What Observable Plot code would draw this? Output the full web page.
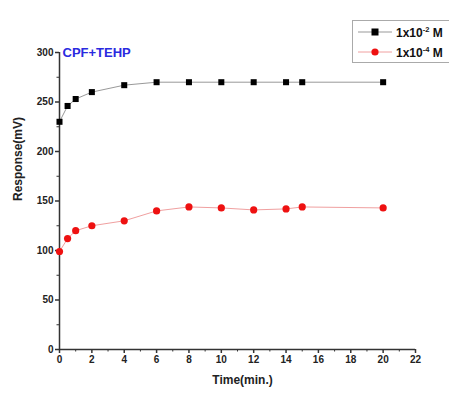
<!DOCTYPE html>
<html>
<head>
<meta charset="utf-8">
<script src="https://cdn.jsdelivr.net/npm/d3@7"></script>
<script src="https://cdn.jsdelivr.net/npm/@observablehq/plot@0.6"></script>
<style>
  html, body { margin: 0; padding: 0; background: #fff; overflow: hidden; }
  #wrap { position: relative; width: 449px; height: 394px; font-family: "Liberation Sans", Arial, sans-serif; }
  #legend { position: absolute; left: 352px; top: 20px; width: 110px; height: 43px; border: 1px solid #aaa; background: #fff; box-sizing: border-box; }
  .row { position: absolute; left: 0; height: 14px; display: flex; align-items: center; font-weight: bold; font-size: 12px; color: #111; }
  .row svg { margin-left: 5px; margin-right: 4px; }
  sup { font-size: 7.5px; }
</style>
</head>
<body>
<div id="wrap"></div>
<script>
const time = [0, 0.5, 1, 2, 4, 6, 8, 10, 12, 14, 15, 20];
const high = [230, 246, 253, 260, 267, 270, 270, 270, 270, 270, 270, 270];
const low  = [99, 112, 120, 125, 130, 140, 144, 143, 141, 142, 144, 143];
const seriesNames = ["1x10-2 M", "1x10-4 M"];
const xTicks = d3.range(0, 23, 2);
const xMinor = d3.range(1, 22, 2);
const yTicks = [0, 50, 100, 150, 200, 250, 300];
const yMinor = [25, 75, 125, 175, 225, 275];
const title = "CPF+TEHP";

const dHigh = time.map((t, i) => ({t, v: high[i]}));
const dLow = time.map((t, i) => ({t, v: low[i]}));

const chart = Plot.plot({
  width: 449,
  height: 394,
  marginLeft: 59,
  marginRight: 34,
  marginTop: 52,
  marginBottom: 45,
  style: {fontFamily: "Liberation Sans, Arial, sans-serif", fontWeight: "bold", fontSize: "10px", color: "#222", background: "#fff"},
  x: {domain: [0, 22]},
  y: {domain: [0, 300]},
  marks: [
    Plot.axisX({ticks: xTicks, tickSize: 4, tickPadding: 2, label: null, fontWeight: "bold", fontSize: 10, stroke: "#333", strokeWidth: 1.5}),
    Plot.axisX({ticks: xMinor, tickSize: 2.5, tickFormat: () => "", label: null, stroke: "#333"}),
    Plot.axisY({ticks: yTicks, tickSize: 4, tickPadding: 2, label: null, fontWeight: "bold", fontSize: 10, stroke: "#333", strokeWidth: 1.5}),
    Plot.axisY({ticks: yMinor, tickSize: 2.5, tickFormat: () => "", label: null, stroke: "#333"}),
    Plot.ruleY([0], {stroke: "#333", strokeWidth: 1.5}),
    Plot.ruleX([0], {stroke: "#333", strokeWidth: 1.5}),
    Plot.text(["Time(min.)"], {frameAnchor: "bottom", dy: 34, dx: 5, fontWeight: "bold", fontSize: 12, fill: "#222"}),
    Plot.text(["Response(mV)"], {frameAnchor: "left", dx: -41, rotate: -90, fontWeight: "bold", fontSize: 12, fill: "#222"}),
    Plot.text([title], {frameAnchor: "top-left", dx: 3, dy: 0, lineAnchor: "middle", textAnchor: "start", fontWeight: "bold", fontSize: 13, fill: "#2a2ae0"}),
    Plot.line(dHigh, {x: "t", y: "v", stroke: "#999", strokeWidth: 1}),
    Plot.line(dLow, {x: "t", y: "v", stroke: "#f0a0a0", strokeWidth: 1}),
    Plot.dot(dHigh, {x: "t", y: "v", symbol: "square", r: 3.4, fill: "#000", stroke: "none"}),
    Plot.dot(dLow, {x: "t", y: "v", symbol: "circle", r: 3.6, fill: "#ee1111", stroke: "none"})
  ]
});

const wrap = document.getElementById("wrap");
wrap.appendChild(chart);

const legend = document.createElement("div");
legend.id = "legend";
const sym = [
  `<svg width="34" height="10"><line x1="0" y1="5" x2="34" y2="5" stroke="#999" stroke-width="1"/><rect x="13.5" y="1.5" width="7" height="7" fill="#000"/></svg>`,
  `<svg width="34" height="10"><line x1="0" y1="5" x2="34" y2="5" stroke="#f0a0a0" stroke-width="1"/><circle cx="17" cy="5" r="3.6" fill="#ee1111"/></svg>`
];
seriesNames.forEach((name, i) => {
  const m = name.match(/^(1x10)(-\d)( M)$/);
  const row = document.createElement("div");
  row.className = "row";
  row.style.top = (4 + i * 20) + "px";
  row.innerHTML = sym[i] + `<span>${m[1]}<sup>${m[2]}</sup>${m[3]}</span>`;
  legend.appendChild(row);
});
wrap.appendChild(legend);
</script>
</body>
</html>
